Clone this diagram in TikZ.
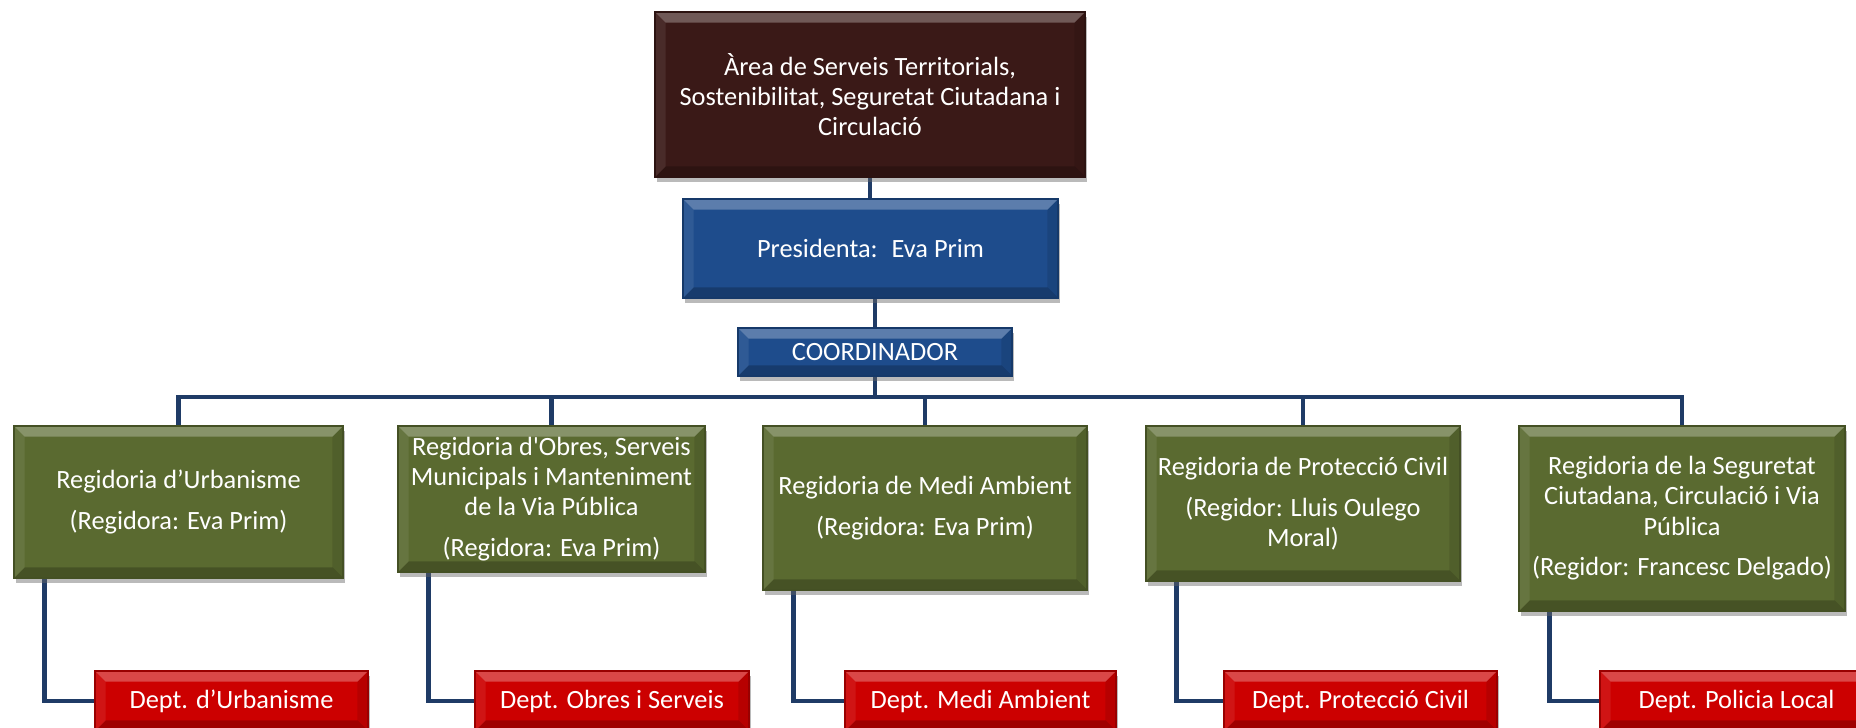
\documentclass[tikz,border=0pt]{standalone}
\usepackage{fontspec}
\setmainfont{Carlito}
\usetikzlibrary{positioning, calc, shadows, backgrounds}

\definecolor{areaBrown}{HTML}{3A1917}
\definecolor{presBlue}{HTML}{1E4C8C}
\definecolor{regGreen}{HTML}{5A6A30}
\definecolor{deptRed}{HTML}{CC0000}
\definecolor{lineBlue}{HTML}{1F3B66}

\begin{document}
\begin{tikzpicture}[
        bevel/.style={path picture={
            \fill[white, opacity=0.28] (path picture bounding box.north west) -- (path picture bounding box.north east)
                -- ([shift={(-3pt,-3pt)}]path picture bounding box.north east) -- ([shift={(3pt,-3pt)}]path picture bounding box.north west) -- cycle;
            \fill[black, opacity=0.22] (path picture bounding box.south west) -- (path picture bounding box.south east)
                -- ([shift={(-3pt,3pt)}]path picture bounding box.south east) -- ([shift={(3pt,3pt)}]path picture bounding box.south west) -- cycle;
            \fill[white, opacity=0.08] (path picture bounding box.south west) -- (path picture bounding box.north west)
                -- ([shift={(3pt,-3pt)}]path picture bounding box.north west) -- ([shift={(3pt,3pt)}]path picture bounding box.south west) -- cycle;
            \fill[black, opacity=0.1] (path picture bounding box.south east) -- (path picture bounding box.north east)
                -- ([shift={(-3pt,-3pt)}]path picture bounding box.north east) -- ([shift={(-3pt,3pt)}]path picture bounding box.south east) -- cycle;
        }},
        box/.style={draw=#1!75!black, fill=#1, text=white, align=center, inner sep=2pt,
            font=\fontsize{7.5}{8.6}\selectfont, bevel,
            drop shadow={shadow xshift=0.6pt, shadow yshift=-1.4pt, fill=black!60, opacity=0.45}},
        conn/.style={draw=lineBlue, line width=1.3pt}
    ]
        \newcommand{\regDesc}[2]{#1\\[3pt]#2}
        \useasboundingbox (0,0) rectangle (18.56,-7.28);

        \node[box=areaBrown, minimum width=4.30cm, minimum height=1.65cm] (area) at (8.70,-0.945)
            {Àrea de Serveis Territorials,\\Sostenibilitat, Seguretat Ciutadana i\\Circulació};
        \node[box=presBlue, minimum width=3.75cm, minimum height=0.99cm] (pres) at (8.705,-2.485) {Presidenta:~ Eva Prim};
        \node[box=presBlue, minimum width=2.74cm, minimum height=0.48cm] (coord) at (8.75,-3.52) {COORDINADOR};
        \coordinate (bus) at (8.75,-3.97);

        \node[box=regGreen, minimum width=3.29cm, minimum height=1.52cm] (reg1) at (1.785,-5.02)
            {\regDesc{Regidoria d’Urbanisme}{(Regidora: Eva Prim)}};
        \node[box=regGreen, minimum width=3.07cm, minimum height=1.46cm] (reg2) at (5.515,-4.99)
            {\regDesc{Regidoria d\textquotesingle Obres, Serveis\\Municipals i Manteniment\\de la Via Pública}{(Regidora: Eva Prim)}};
        \node[box=regGreen, minimum width=3.24cm, minimum height=1.64cm] (reg3) at (9.25,-5.08)
            {\regDesc{Regidoria de Medi Ambient}{(Regidora: Eva Prim)}};
        \node[box=regGreen, minimum width=3.14cm, minimum height=1.55cm] (reg4) at (13.03,-5.035)
            {\regDesc{Regidoria de Protecció Civil}{(Regidor: Lluis Oulego\\Moral)}};
        \node[box=regGreen, minimum width=3.26cm, minimum height=1.85cm] (reg5) at (16.82,-5.185)
            {\regDesc{Regidoria de la Seguretat\\Ciutadana, Circulació i Via\\Pública}{(Regidor: Francesc Delgado)}};

        \node[box=deptRed, minimum width=2.73cm, minimum height=0.60cm] (dept1) at (2.315,-7.01) {Dept. d’Urbanisme};
        \node[box=deptRed, minimum width=2.74cm, minimum height=0.60cm] (dept2) at (6.12,-7.01) {Dept. Obres i Serveis};
        \node[box=deptRed, minimum width=2.71cm, minimum height=0.60cm] (dept3) at (9.805,-7.01) {Dept. Medi Ambient};
        \node[box=deptRed, minimum width=2.73cm, minimum height=0.60cm] (dept4) at (13.605,-7.01) {Dept. Protecció Civil};
        \node[box=deptRed, minimum width=2.73cm, minimum height=0.60cm] (dept5) at (17.365,-7.01) {Dept. Policia Local};

        \begin{scope}[on background layer]
            \draw[conn] (area.south) -- (area.south |- pres.north);
            \draw[conn] (pres.south -| coord.north) -- (coord.north);
            \draw[conn] (coord.south) -- (bus);
            \foreach \reg in {reg1, reg2, reg3, reg4, reg5}
                \draw[conn] (bus) -| (\reg.north);
            \foreach \reg/\dept in {reg1/dept1, reg2/dept2, reg3/dept3, reg4/dept4, reg5/dept5}
                \draw[conn] ([xshift=0.31cm]\reg.south west) |- (\dept.west);
        \end{scope}
    \end{tikzpicture}
\end{document}
